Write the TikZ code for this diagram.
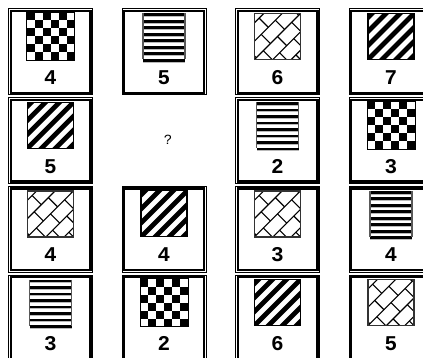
\documentclass[tikz,border=0pt]{standalone}
\usepackage{fontspec}
\setmonofont{Liberation Mono}
\usetikzlibrary{positioning}

\tikzset{
  % the four card patterns, drawn round their centre (y points down)
  checker/.pic={
    \foreach \i in {0,...,5}
      \foreach \j in {0,...,5} {
        \pgfmathtruncatemacro\odd{mod(\i+\j,2)}
        \ifnum\odd=0 \fill (-24+\i*8,-24+\j*8) rectangle ++(8,8); \fi
      }
    \draw[line width=0.8pt] (-24,-24) rectangle (24,24);
  },
  hstripes/.pic={
    \foreach \k in {0,...,7} {
      \fill (-21,-23+\k*6.5) rectangle (21,-23+\k*6.5+2.8);
      \fill[gray!55] (-21,-23+\k*6.5+2.8) rectangle (21,-23+\k*6.5+3.8);
    }
    \draw[line width=1.4pt,gray!70!black] (-21,-23) -- (-21,23) (21,-23) -- (21,23);
  },
  dstripes/.pic={
    \begin{scope}
      \clip (-23,-23) rectangle (23,23);
      \foreach \t in {-42,-28,...,42}
        \draw[line width=4.8pt] (\t-30,30) -- (\t+30,-30);
    \end{scope}
    \draw[line width=1.2pt] (-23,-23) rectangle (23,23);
  },
  bricks/.pic={
    \begin{scope}
      \clip (-23,-23) rectangle (23,23);
      \begin{scope}[rotate=45,line width=1.1pt]
        \foreach \k in {-3,...,3} {
          \draw (-40,\k*13) -- (40,\k*13);
          \foreach \m in {-3,...,3}
            \draw ({\m*20+mod(\k+10,2)*10},\k*13) -- ++(0,13);
        }
      \end{scope}
    \end{scope}
    \draw[line width=1.4pt,gray!40!black] (-23,-23) rectangle (23,23);
  }
}

\begin{document}
\begin{tikzpicture}[x=1pt,y=-1pt,
    card/.style={draw,line width=1pt,minimum width=84pt,minimum height=86pt,
      inner sep=0pt},
    cardrim/.style={line width=2.2pt},
    number/.style={font=\ttfamily\bfseries\fontsize{21}{21}\selectfont},
    query/.style={font=\ttfamily\fontsize{14}{14}\selectfont}
  ]
  \useasboundingbox (0,0) rectangle (423,358);
  \clip (0,0) rectangle (423,358);

  \foreach \col/\row/\pat/\num in {
      1/1/checker/4, 2/1/hstripes/5, 3/1/bricks/6, 4/1/dstripes/7,
      1/2/dstripes/5, 3/2/hstripes/2, 4/2/checker/3,
      1/3/bricks/4, 2/3/dstripes/4, 3/3/bricks/3, 4/3/hstripes/4,
      1/4/hstripes/3, 2/4/checker/2, 3/4/dstripes/6, 4/4/bricks/5} {
    \node[card] (card-\col-\row) at ({50.5+(\col-1)*113.5},{52+(\row-1)*88.7}) {};
    \draw[cardrim] ([shift={(2.6,2.6)}]card-\col-\row.north west)
      rectangle ([shift={(-2.6,-2.6)}]card-\col-\row.south east);
    \pic at ([yshift=-28pt]card-\col-\row.north) {\pat};
    \node[number] (num-\col-\row) at ([yshift=-69pt]card-\col-\row.north) {\num};
  }

  \node[query] (qmark) at (168,140) {?};
\end{tikzpicture}
\end{document}
